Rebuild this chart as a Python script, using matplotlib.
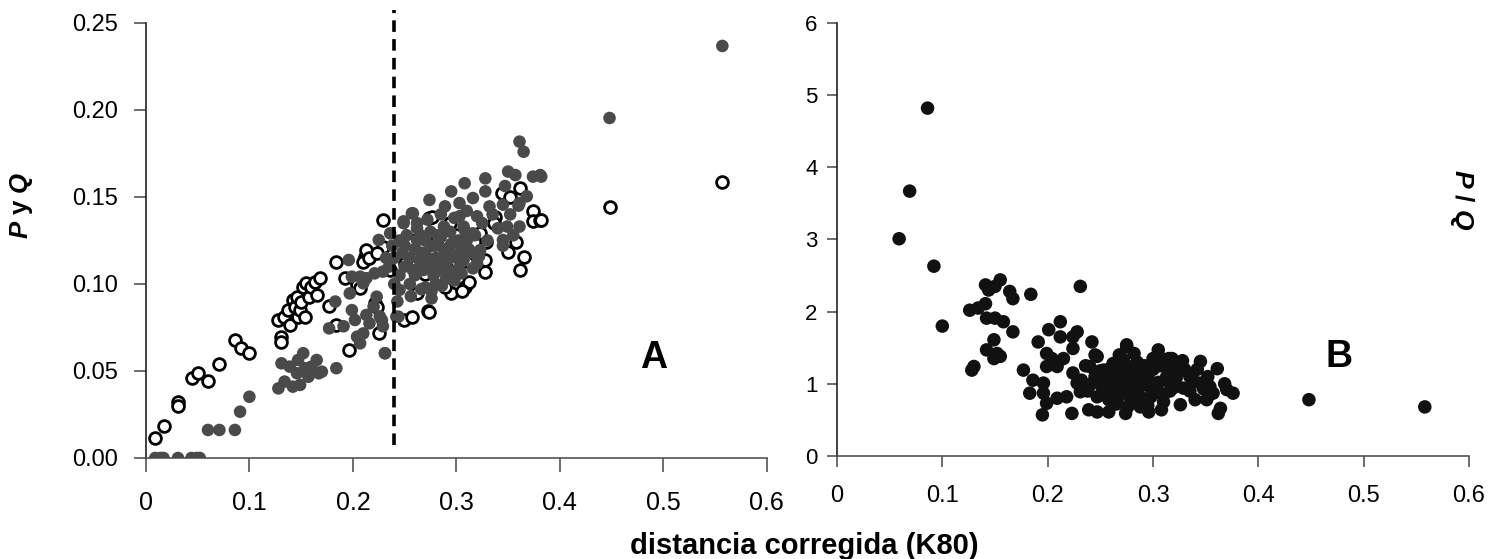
import matplotlib
matplotlib.use('Agg')
import matplotlib.pyplot as plt

plt.rcParams['font.family'] = ['Liberation Sans', 'DejaVu Sans']
plt.rcParams['mathtext.fontset'] = 'custom'
plt.rcParams['mathtext.it'] = 'Liberation Sans:bold:italic'
plt.rcParams['mathtext.rm'] = 'Liberation Sans:bold'

# panel A, P (circulos abiertos)
p_x = [0.009, 0.017, 0.031, 0.031, 0.045, 0.050, 0.060, 0.071, 0.086, 0.092, 0.100,
       0.128, 0.131, 0.131, 0.133, 0.137, 0.139, 0.142, 0.144, 0.146, 0.147, 0.149,
       0.150, 0.152, 0.154, 0.155, 0.158, 0.160, 0.163, 0.165, 0.168,
       0.177, 0.184, 0.184, 0.192, 0.196, 0.204, 0.207, 0.212, 0.213, 0.210, 0.216,
       0.221, 0.223, 0.225, 0.229, 0.229, 0.223, 0.249, 0.257, 0.273, 0.274,
       0.276, 0.294, 0.337, 0.344, 0.352, 0.361, 0.374, 0.374, 0.381, 0.358, 0.350,
       0.365, 0.361, 0.328, 0.328, 0.329, 0.308, 0.295, 0.289, 0.262, 0.274,
       0.323, 0.336, 0.382, 0.448, 0.557,
       0.250, 0.262, 0.270, 0.280, 0.290, 0.300, 0.310, 0.255, 0.285, 0.300,
       0.244, 0.236, 0.318, 0.312, 0.305]
p_y = [0.0115, 0.0184, 0.0324, 0.0300, 0.0458, 0.049, 0.0444, 0.054, 0.0678, 0.063, 0.0605,
       0.0793, 0.0697, 0.0669, 0.0812, 0.085, 0.0764, 0.0908, 0.087, 0.0927, 0.0812, 0.085,
       0.0898, 0.0985, 0.0812, 0.1004, 0.0927, 0.0985, 0.1013, 0.0937, 0.1033,
       0.0873, 0.1128, 0.0764, 0.1033, 0.062, 0.0994, 0.0975, 0.1157, 0.1195, 0.1128, 0.1148,
       0.0889, 0.087, 0.0716, 0.1368, 0.1214, 0.1176, 0.0793, 0.0812, 0.0843, 0.138,
       0.1387, 0.1349, 0.1387, 0.1521, 0.1502, 0.155, 0.1418, 0.136, 0.1368, 0.1243, 0.1186,
       0.1157, 0.108, 0.1138, 0.1071, 0.1243, 0.0985, 0.0946, 0.0985, 0.0946, 0.0841,
       0.1291, 0.1349, 0.1368, 0.1444, 0.1588,
       0.112, 0.118, 0.106, 0.124, 0.110, 0.119, 0.113, 0.125, 0.104, 0.128,
       0.119, 0.108, 0.117, 0.101, 0.096]

# panel A, Q (circulos grises)
q_x = [0.009, 0.014, 0.017, 0.031, 0.044, 0.049, 0.052, 0.060, 0.071, 0.086, 0.091, 0.100,
       0.128, 0.131, 0.134, 0.139, 0.142, 0.146, 0.147, 0.149, 0.152, 0.154, 0.157, 0.160,
       0.165, 0.167, 0.170, 0.184,
       0.177, 0.183, 0.191, 0.196, 0.197, 0.199, 0.202, 0.204, 0.207, 0.210, 0.213, 0.216,
       0.220, 0.225, 0.226, 0.228, 0.223, 0.231, 0.236, 0.242, 0.249, 0.257,
       0.199, 0.207, 0.213, 0.221, 0.229, 0.210,
       0.361, 0.365, 0.350, 0.357, 0.374, 0.381, 0.328, 0.308, 0.295, 0.274, 0.289, 0.347,
       0.328, 0.316, 0.303, 0.368, 0.361, 0.345, 0.258, 0.249, 0.332, 0.320, 0.349, 0.361,
       0.345, 0.316, 0.307, 0.303, 0.323, 0.307, 0.320, 0.305, 0.276, 0.245, 0.244, 0.229, 0.231,
       0.245, 0.250, 0.255, 0.260, 0.260, 0.265, 0.270, 0.270, 0.275, 0.275, 0.280, 0.280,
       0.285, 0.285, 0.290, 0.290, 0.295, 0.300, 0.300, 0.305, 0.265, 0.255, 0.250, 0.270,
       0.280, 0.290, 0.310, 0.315, 0.240, 0.235, 0.245, 0.262, 0.288,
       0.248, 0.252, 0.258, 0.262, 0.266, 0.268, 0.272, 0.276, 0.278, 0.282, 0.284, 0.288,
       0.292, 0.294, 0.296, 0.298, 0.302, 0.306, 0.308, 0.312, 0.316, 0.318, 0.322, 0.256,
       0.266, 0.276, 0.286, 0.262, 0.272, 0.285, 0.298, 0.310, 0.325, 0.330, 0.335, 0.340,
       0.345, 0.352, 0.355, 0.360, 0.240, 0.238, 0.232, 0.243,
       0.382, 0.448, 0.557]
q_y = [0.0, 0.0, 0.0, 0.0, 0.0, 0.0, 0.0, 0.0161, 0.0161, 0.0161, 0.0266, 0.0352,
       0.040, 0.0544, 0.0439, 0.0525, 0.041, 0.0487, 0.0563, 0.042, 0.0602, 0.0516, 0.0467, 0.0525,
       0.0563, 0.0487, 0.0496, 0.0516,
       0.0745, 0.0899, 0.0757, 0.1138, 0.0946, 0.085, 0.0793, 0.0697, 0.0659, 0.0716, 0.0822, 0.0774,
       0.087, 0.1253, 0.0814, 0.0793, 0.0927, 0.0602, 0.1291, 0.0812, 0.1349, 0.1406,
       0.1042, 0.1042, 0.1033, 0.1061, 0.1071, 0.1004,
       0.1818, 0.176, 0.1646, 0.1626, 0.1617, 0.1626, 0.1607, 0.1579, 0.1532, 0.1483, 0.1446, 0.1563,
       0.1532, 0.1494, 0.1465, 0.1504, 0.1465, 0.1456, 0.1406, 0.136, 0.1446, 0.1389, 0.133, 0.133,
       0.1253, 0.1291, 0.133, 0.1389, 0.1195, 0.1138, 0.1119, 0.1061, 0.0917, 0.0966, 0.0812, 0.0757, 0.0602,
       0.105, 0.110, 0.115, 0.120, 0.105, 0.113, 0.118, 0.125, 0.110, 0.130, 0.115, 0.122,
       0.108, 0.127, 0.118, 0.112, 0.123, 0.115, 0.108, 0.120, 0.128, 0.100, 0.122, 0.098,
       0.100, 0.103, 0.125, 0.118, 0.115, 0.110, 0.125, 0.132, 0.133,
       0.118, 0.128, 0.108, 0.125, 0.118, 0.108, 0.113, 0.122, 0.105, 0.128, 0.112, 0.120,
       0.108, 0.130, 0.117, 0.102, 0.125, 0.113, 0.131, 0.120, 0.109, 0.128, 0.116, 0.093,
       0.097, 0.096, 0.099, 0.135, 0.137, 0.140, 0.138, 0.142, 0.135, 0.125, 0.140, 0.132,
       0.122, 0.140, 0.128, 0.145, 0.100, 0.122, 0.115, 0.090,
       0.1617, 0.1954, 0.2368]

# panel B, P/Q
r_x = [0.086, 0.069, 0.059, 0.092, 0.100, 0.231, 0.184,
       0.141, 0.144, 0.155, 0.150, 0.164, 0.167, 0.126, 0.134, 0.141, 0.142, 0.150, 0.158,
       0.167, 0.149, 0.142, 0.152, 0.149, 0.155, 0.130, 0.128, 0.177, 0.191,
       0.201, 0.212, 0.212, 0.224, 0.228, 0.224, 0.199, 0.204, 0.215, 0.199, 0.209, 0.242, 0.245,
       0.186, 0.196, 0.183, 0.196, 0.199, 0.195, 0.209, 0.218, 0.224, 0.228, 0.231, 0.223,
       0.239, 0.247, 0.258, 0.274, 0.240, 0.247, 0.253, 0.262, 0.269, 0.275, 0.272,
       0.243, 0.247, 0.256, 0.266, 0.266, 0.275,
       0.275, 0.305, 0.318, 0.345, 0.361, 0.376, 0.364, 0.362, 0.351, 0.326, 0.308, 0.296,
       0.335, 0.345, 0.354, 0.357, 0.313, 0.319, 0.329, 0.307, 0.297, 0.291, 0.281, 0.269,
       0.250, 0.255, 0.260, 0.265, 0.270, 0.275, 0.280, 0.280, 0.285, 0.290, 0.295, 0.300,
       0.300, 0.305, 0.310, 0.315, 0.320, 0.260, 0.270, 0.285, 0.290, 0.300, 0.310, 0.265,
       0.280, 0.295, 0.320, 0.330, 0.335, 0.250,
       0.252, 0.258, 0.262, 0.268, 0.272, 0.276, 0.278, 0.283, 0.287, 0.292, 0.296, 0.302,
       0.306, 0.312, 0.316, 0.322, 0.326, 0.338, 0.342, 0.348, 0.352, 0.258, 0.268, 0.282,
       0.298, 0.310, 0.288, 0.276, 0.245, 0.238, 0.232, 0.236, 0.305, 0.315, 0.328, 0.340,
       0.370, 0.368,
       0.448, 0.558]
r_y = [4.82, 3.67, 3.01, 2.63, 1.80, 2.35, 2.24,
       2.37, 2.30, 2.44, 2.35, 2.28, 2.18, 2.02, 2.05, 2.11, 1.91, 1.91, 1.86,
       1.72, 1.61, 1.47, 1.42, 1.35, 1.38, 1.24, 1.19, 1.19, 1.58,
       1.75, 1.86, 1.65, 1.65, 1.72, 1.49, 1.42, 1.35, 1.35, 1.24, 1.24, 1.58, 1.40,
       1.05, 1.01, 0.87, 0.87, 0.73, 0.57, 0.80, 0.82, 1.15, 1.01, 0.89, 0.59,
       0.64, 0.61, 0.61, 0.59, 1.24, 1.38, 1.19, 1.28, 1.15, 1.51, 1.33,
       1.01, 0.82, 0.91, 1.01, 0.78, 0.96,
       1.54, 1.47, 1.35, 1.31, 1.21, 0.87, 0.66, 0.59, 0.78, 0.71, 0.64, 0.61,
       1.10, 1.01, 0.96, 0.87, 1.10, 1.01, 0.94, 0.87, 0.96, 1.15, 1.24, 1.26,
       1.00, 1.10, 0.95, 1.15, 1.05, 0.90, 1.00, 1.12, 0.88, 1.02, 1.10, 0.92,
       1.20, 1.02, 0.85, 1.15, 0.95, 0.85, 1.22, 1.30, 0.80, 1.35, 1.28, 0.72,
       0.75, 0.70, 1.22, 1.20, 0.90, 1.18,
       0.95, 1.20, 1.05, 0.90, 1.30, 1.10, 0.82, 1.18, 0.95, 1.25, 1.05, 0.98,
       1.25, 1.05, 0.90, 1.08, 1.18, 1.05, 1.20, 0.93, 1.10, 0.78, 1.40, 1.42,
       0.82, 0.75, 0.68, 0.68, 1.10, 0.90, 1.05, 1.25, 1.40, 1.35, 1.32, 0.78,
       0.92, 1.00,
       0.78, 0.68]

k80_corte = 0.24
ax_color = '#555555'

fig = plt.figure(figsize=(14.89, 5.59), dpi=100)
axA = fig.add_axes([0.098, 0.1807, 0.417, 0.7782])
axB = fig.add_axes([0.5621, 0.1843, 0.4245, 0.7746])

# --- A ---
axA.scatter(p_x, p_y, s=72, facecolor='white', edgecolor='black', linewidth=2.0, zorder=3)
axA.scatter(q_x, q_y, s=82, facecolor='#4a4a4a', edgecolor='none', zorder=4)
axA.plot([k80_corte, k80_corte], [0.0075, 0.2575], color='black', lw=2.6,
         dashes=(3.2, 2.0), clip_on=False, zorder=5)
axA.set_xlim(0, 0.6)
axA.set_ylim(0, 0.25)
axA.set_xticks([0, 0.1, 0.2, 0.3, 0.4, 0.5, 0.6])
axA.set_xticklabels(['0', '0.1', '0.2', '0.3', '0.4', '0.5', '0.6'])
axA.set_yticks([0, 0.05, 0.10, 0.15, 0.20, 0.25])
axA.set_yticklabels(['0.00', '0.05', '0.10', '0.15', '0.20', '0.25'])
axA.tick_params(axis='x', length=10, width=1.2, color=ax_color, labelsize=18, pad=14)
axA.tick_params(axis='y', length=9, width=1.2, color=ax_color, labelsize=17, pad=11)
axA.text(0.818, 0.23, 'A', transform=axA.transAxes, fontsize=27, fontweight='bold',
         ha='center', va='center')
axA.text(-0.2, 0.582, r'$P$ y $Q$', transform=axA.transAxes, rotation=90,
         fontsize=18.5, fontweight='bold', ha='center', va='center')

# --- B ---
axB.scatter(r_x, r_y, s=95, color='#111111', edgecolor='none', zorder=3)
axB.set_xlim(0, 0.6)
axB.set_ylim(0, 6)
axB.set_xticks([0, 0.1, 0.2, 0.3, 0.4, 0.5, 0.6])
axB.set_xticklabels(['0', '0.1', '0.2', '0.3', '0.4', '0.5', '0.6'])
axB.set_yticks([0, 1, 2, 3, 4, 5, 6])
axB.tick_params(axis='x', length=8, width=1.2, color=ax_color, labelsize=17, pad=13)
axB.tick_params(axis='y', length=7, width=1.2, color=ax_color, labelsize=16, pad=7)
axB.text(0.794, 0.228, 'B', transform=axB.transAxes, fontsize=27, fontweight='bold',
         ha='center', va='center')
axB.text(0.989, 0.591, r'$P$ / $Q$', transform=axB.transAxes, rotation=270,
         fontsize=19, fontweight='bold', ha='center', va='center')

for ax in (axA, axB):
    ax.spines['top'].set_visible(False)
    ax.spines['right'].set_visible(False)
    ax.spines['bottom'].set_color(ax_color)
    ax.spines['bottom'].set_linewidth(1.2)
    ax.spines['left'].set_color('#222222')
    ax.spines['left'].set_linewidth(1.2)

fig.text(0.423, 0.024, 'distancia corregida (K80)', fontsize=21, fontweight='bold',
         ha='left', va='center')

fig.savefig('out.png', dpi=100)
